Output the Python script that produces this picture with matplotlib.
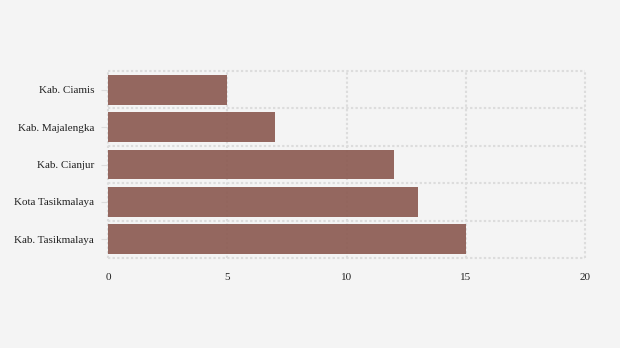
import matplotlib
matplotlib.use("Agg")
import matplotlib.pyplot as plt
import numpy as np

categories = ["Kab. Ciamis", "Kab. Majalengka", "Kab. Cianjur", "Kota Tasikmalaya", "Kab. Tasikmalaya"]
values = [5, 7, 12, 13, 15]
xticks = [0, 5, 10, 15, 20]

plt.rcParams['font.family'] = ['Liberation Serif', 'DejaVu Serif']

fig = plt.figure(figsize=(6.2, 3.48), dpi=100, facecolor='#f4f4f4')
ax = fig.add_axes([108/620, 1-258/348, (585-108)/620, (258-71)/348])
ax.set_facecolor('#f4f4f4')

y = np.arange(len(categories))
ax.barh(y, values, height=0.8, color='#8a584f', alpha=0.9, zorder=3)

ax.set_xlim(0, 20)
ax.set_ylim(len(categories)-0.5, -0.5)
ax.set_xticks(xticks)
ax.set_xticklabels([str(t) for t in xticks], fontsize=8, color='#222222')
ax.set_yticks(y)
ax.set_yticklabels(categories, fontsize=8, color='#222222')

ax.tick_params(axis='x', length=0, pad=11)
ax.tick_params(axis='y', which='major', length=5, width=0.8, color='#dddddd', pad=5)

ax.grid(False)
gkw = dict(color='#dcdcdc', linewidth=1.5, linestyle=(0, (1.1, 1.1)), zorder=1, clip_on=False)
for t in xticks:
    ax.axvline(t, **gkw)
for b in np.arange(-0.5, len(categories), 1.0):
    ax.axhline(b, **gkw)

for s in ax.spines.values():
    s.set_visible(False)

fig.savefig("out.png", dpi=100, facecolor=fig.get_facecolor())
